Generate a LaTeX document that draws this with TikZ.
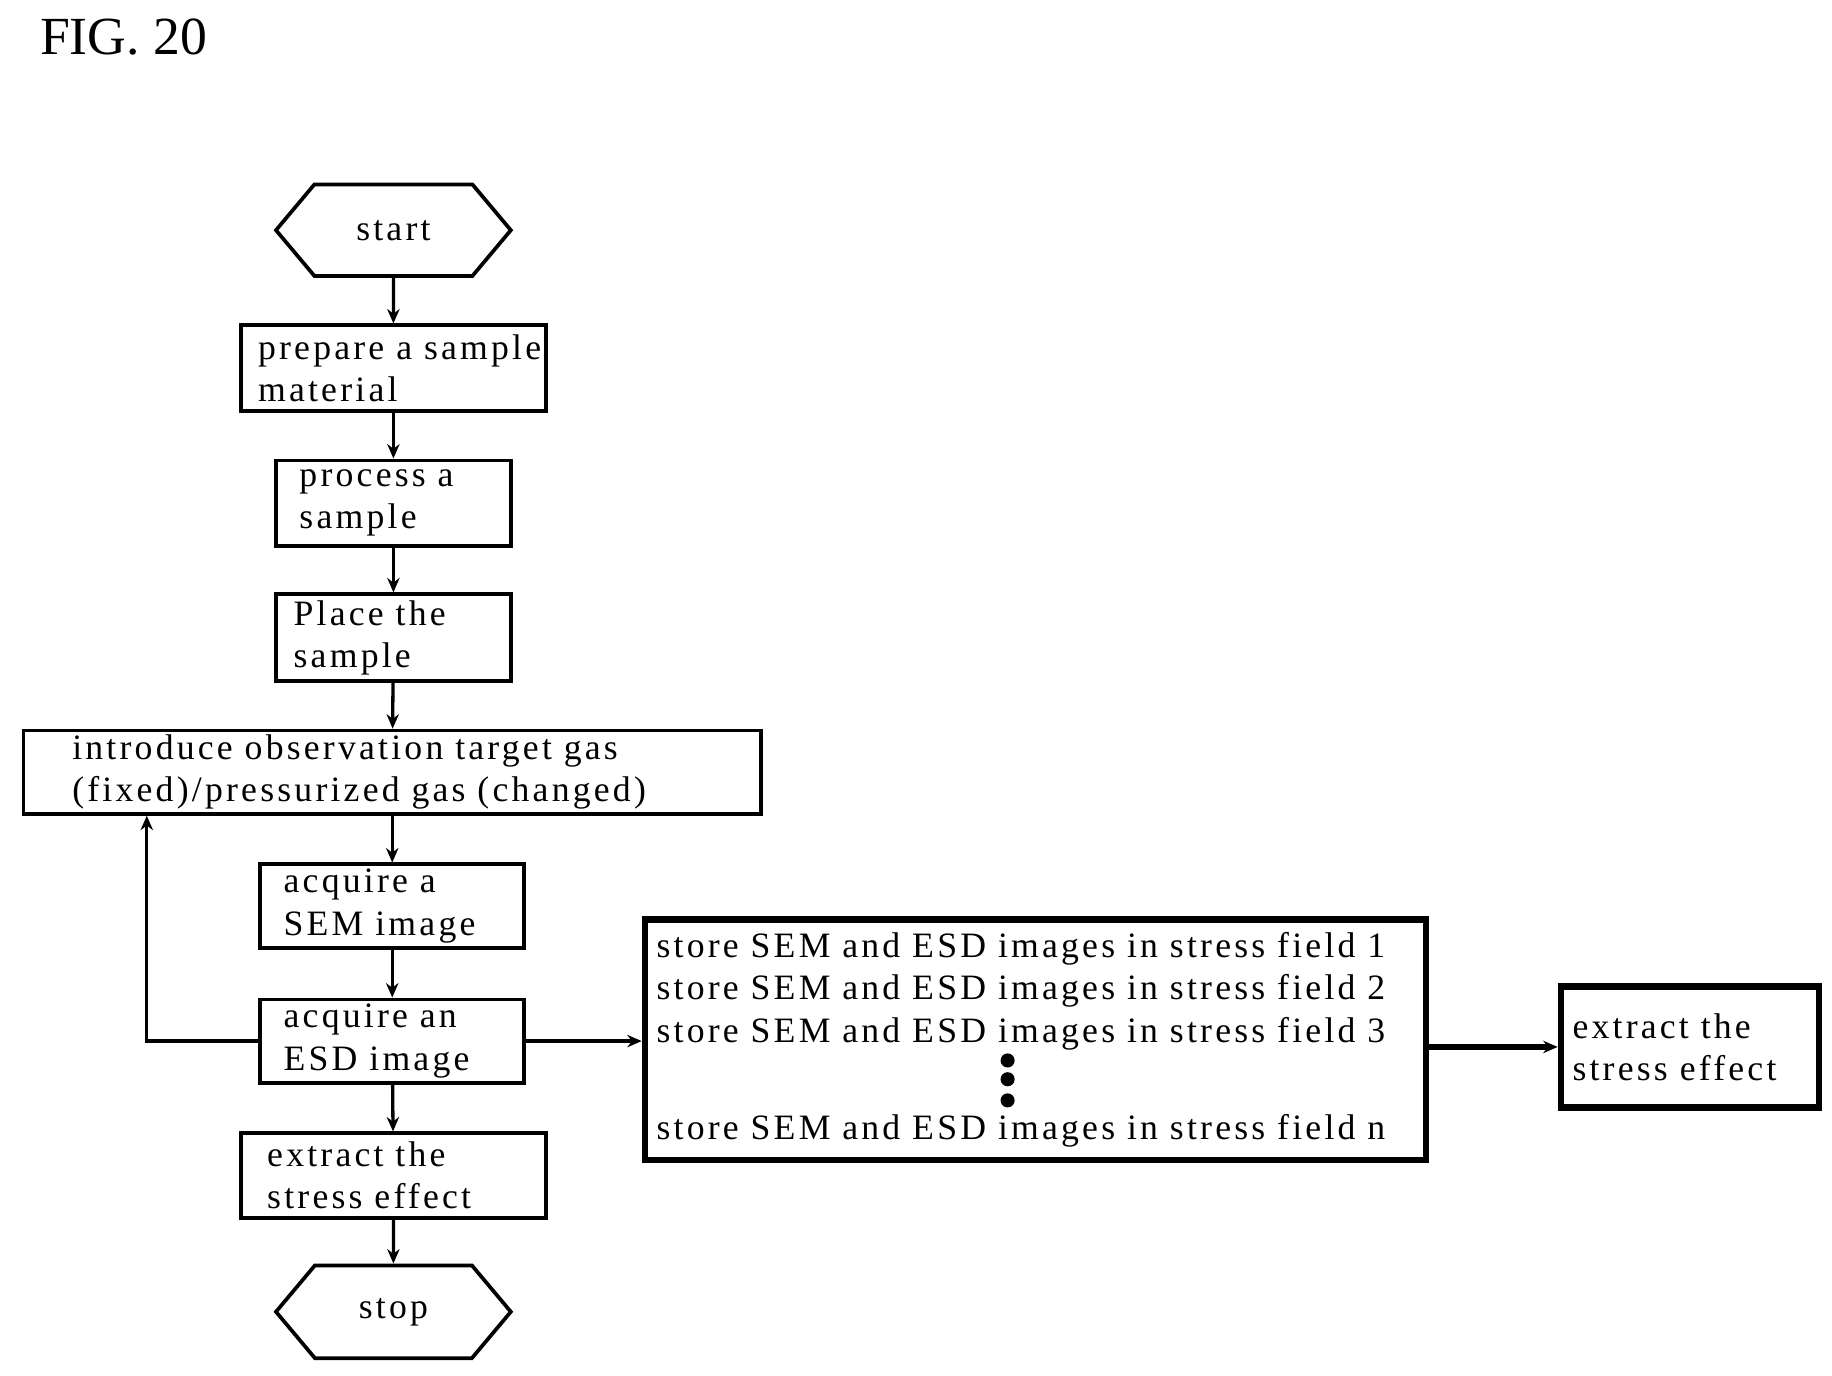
\documentclass[tikz,border=0pt]{standalone}
\usepackage{fontspec}
\setmainfont{Liberation Serif}
\newfontfamily\spaced[LetterSpace=9]{Liberation Serif}
\usetikzlibrary{shapes.symbols,arrows.meta}
\begin{document}
\begin{tikzpicture}
    [x=0.02cm,y=-0.02cm,%%%%%%%%%%%%%%%%%%%%%%%%%%%%%%
        box/.style={rectangle,draw=black,line width=1.8pt,align=left,inner xsep=0.3cm,inner ysep=0pt,
                    font=\spaced\fontsize{17.3}{20.5}\selectfont},
        bold box/.style={box,line width=3pt},
        term/.style={signal,signal to=east and west,signal pointer angle=100,draw=black,line width=1.8pt,
                     minimum width=4cm,font=\spaced\fontsize{17.3}{20.5}\selectfont},
        flow/.style={-{Stealth[length=7pt,width=6pt]},line width=1.6pt},
    ]%%%%%%%%%%%%%%%%%%%%%%%%%%%%%%
\useasboundingbox (0,0) rectangle (1560,1171);
\node[anchor=north west,font=\fontsize{26}{30}\selectfont] (fig) at (28,10) {FIG. 20};

\node[term, minimum height=1.56cm] (start) at (335,196) {start};
\node[box, minimum width=5.2cm, minimum height=1.46cm, text width=4.95cm, inner xsep=0.125cm] (prep) at (335,313.5) {\hspace*{0.17cm}prepare a sample\\\hspace*{0.17cm}material};
\node[box, minimum width=3.8cm, minimum height=1.46cm, text width=3.2cm, inner xsep=0.4cm] (proc) at (335,428.5) {process a\\sample};
\node[box, minimum width=3.8cm, minimum height=1.48cm, text width=3.4cm, inner xsep=0.3cm] (place) at (335,543) {Place the\\sample};
\node[box, minimum width=12.56cm, minimum height=1.42cm, text width=10.9cm, inner xsep=0.83cm] (intro) at (334,657.5) {introduce observation target gas\\(fixed)/pressurized gas (changed)};
\node[box, minimum width=4.36cm, minimum height=1.42cm, text width=3.7cm, inner xsep=0.4cm] (sem) at (334,771.5) {acquire a\\SEM image};
\node[box, minimum width=4.36cm, minimum height=1.42cm, text width=3.7cm, inner xsep=0.4cm] (esd) at (334,886.5) {acquire an\\ESD image};
\node[box, minimum width=5.2cm, minimum height=1.44cm, text width=4.3cm, inner xsep=0.45cm] (extr) at (335,1001) {extract the\\stress effect};
\node[term, minimum height=1.58cm] (stop) at (335,1117) {stop};

\node[bold box, minimum width=13.3cm, minimum height=4.1cm, text width=12.9cm, inner xsep=0.2cm] (store) at (881.5,885.5)
    {store SEM and ESD images in stress field 1\\store SEM and ESD images in stress field 2\\store SEM and ESD images in stress field 3\\[0.94cm]store SEM and ESD images in stress field n};
\node[bold box, minimum width=4.36cm, minimum height=2.06cm, text width=4cm, inner xsep=0.2cm] (rext) at (1439,891.5) {extract the\\stress effect};

% dots
\foreach \y in {903,919,937}
    \fill (858,\y) circle (6);

% main flow
\draw[flow] (start) -- (prep);
\draw[flow] (prep) -- (proc);
\draw[flow] (proc) -- (place);
\draw[flow] (place) -- (intro);
\draw[flow] (intro) -- (sem);
\draw[flow] (sem) -- (esd);
\draw[flow] (esd) -- (extr);
\draw[flow] (extr) -- (stop);
\draw[flow] (esd.west) -| (intro.south -| 125,0);
\draw[flow] (esd.east) -- (store.west |- esd.east);
\draw[flow, line width=3pt] (store.east |- rext.west) -- (rext.west);
\end{tikzpicture}
\end{document}
